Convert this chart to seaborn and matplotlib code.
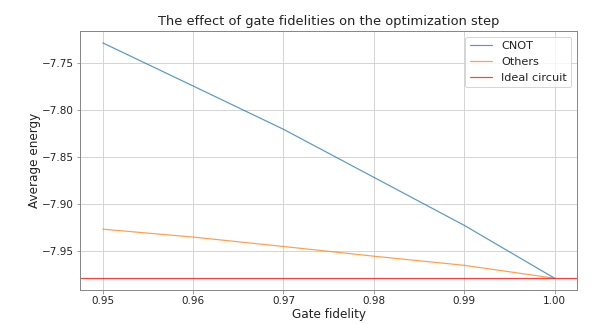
import matplotlib
matplotlib.use("Agg")
import matplotlib.pyplot as plt
import seaborn as sns
import pandas as pd

fidelity = [0.95, 0.96, 0.97, 0.98, 0.99, 1.00]
cnot_energy = [-7.7287, -7.7745, -7.8205, -7.8715, -7.9225, -7.9787]
others_energy = [-7.9266, -7.9350, -7.9450, -7.9553, -7.9650, -7.9787]
ideal_energy = -7.9790

sns.set_style("whitegrid")
plt.rcParams['font.family'] = ['DejaVu Sans']
plt.rcParams['text.color'] = '#222222'
plt.rcParams['axes.labelcolor'] = '#222222'

df = pd.DataFrame({
    "Gate fidelity": fidelity * 2,
    "Average energy": cnot_energy + others_energy,
    "series": ["CNOT"] * len(fidelity) + ["Others"] * len(fidelity),
})

fig = plt.figure(figsize=(8.5, 4.5), dpi=72)
ax = fig.add_axes([0.131, 0.105, 0.812, 0.799])
sns.lineplot(data=df, x="Gate fidelity", y="Average energy", hue="series",
             palette=["#1f77b4", "#ff7f0e"], alpha=0.75, linewidth=1.2, ax=ax)
ax.axhline(ideal_energy, color="red", alpha=0.75, linewidth=1.2, label="Ideal circuit")

ax.set_title("The effect of gate fidelities on the optimization step", fontsize=13, pad=6)
ax.set_xlabel("Gate fidelity", fontsize=12, labelpad=2)
ax.set_ylabel("Average energy", fontsize=12, labelpad=1)
ax.tick_params(bottom=True, left=True, labelsize=10.4, length=3.5, width=0.8,
               color="#888888", labelcolor="#222222", pad=3)
for s in ax.spines.values():
    s.set_color("#888888")
    s.set_linewidth(1.0)
ax.grid(True, color="#d5d5d5", linewidth=1.0)
ax.legend(loc="upper right", fontsize=11.3)

fig.savefig("out.png", dpi=72)
